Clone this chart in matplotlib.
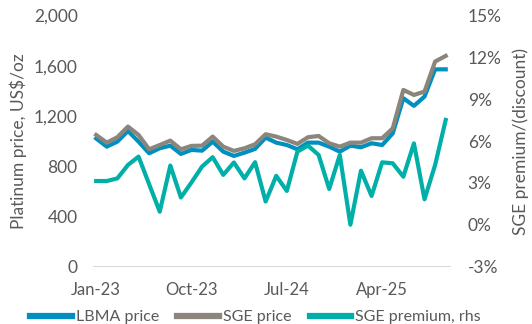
import matplotlib
matplotlib.use("Agg")
import matplotlib.pyplot as plt
import numpy as np

months = ["Jan-23","Feb-23","Mar-23","Apr-23","May-23","Jun-23","Jul-23","Aug-23","Sep-23","Oct-23","Nov-23","Dec-23",
          "Jan-24","Feb-24","Mar-24","Apr-24","May-24","Jun-24","Jul-24","Aug-24","Sep-24","Oct-24","Nov-24","Dec-24",
          "Jan-25","Feb-25","Mar-25","Apr-25","May-25","Jun-25","Jul-25","Aug-25","Sep-25","Oct-25"]
lbma = [1020, 955, 995, 1080, 995, 902, 942, 963, 897, 929, 923, 995,
        915, 881, 907, 937, 1027, 987, 968, 934, 987, 987, 955, 915,
        963, 950, 982, 968, 1061, 1341, 1280, 1354, 1571, 1571]
sge = [1048, 987, 1030, 1115, 1048, 934, 968, 1003, 934, 961, 963, 1035,
       955, 921, 942, 974, 1054, 1035, 1008, 977, 1030, 1040, 982, 955,
       987, 987, 1022, 1022, 1101, 1407, 1367, 1394, 1633, 1678]
premium = [3.13, 3.13, 3.32, 4.28, 4.88, 2.9, 0.93, 4.24, 1.95, 3.03, 4.17, 4.84,
           3.57, 4.46, 3.32, 4.48, 1.66, 3.50, 2.42, 5.24, 5.67, 5.0, 2.56, 5.0,
           0.0, 3.87, 2.06, 4.47, 4.40, 3.44, 5.83, 1.82, 4.28, 7.51]
tick_labels = ["Jan-23", "Oct-23", "Jul-24", "Apr-25"]

c_lbma = "#0090BF"
c_sge = "#8B857B"
c_prem = "#00B0A8"
txt = "#595959"

plt.rcParams['font.family'] = ['Lato', 'DejaVu Sans']
fig = plt.figure(figsize=(5.32, 3.24), dpi=100)
ax = fig.add_axes([93/532, 1-266.5/324, (451-93)/532, (266.5-15.5)/324])
ax2 = ax.twinx()

x = np.arange(len(months))
l1, = ax.plot(x, lbma, color=c_lbma, lw=3.0, label="LBMA price")
l2, = ax.plot(x, sge, color=c_sge, lw=3.0, label="SGE price")
l3, = ax2.plot(x, premium, color=c_prem, lw=3.0, label="SGE premium, rhs")

ax.set_xlim(-0.3, 33.5)
ax.set_ylim(0, 2000)
ax.set_yticks(np.arange(0, 2001, 400))
ax.set_yticklabels([f"{v:,}" for v in range(0, 2001, 400)])
ax2.set_ylim(-3, 15)
ax2.set_yticks(np.arange(-3, 16, 3))
ax2.set_yticklabels([f"{v}%" for v in range(-3, 16, 3)])
ax.set_xticks([months.index(t) for t in tick_labels])
ax.set_xticklabels(tick_labels)

for a in (ax, ax2):
    for s in ("top", "left", "right", "bottom"):
        a.spines[s].set_visible(False)
    a.tick_params(length=0, colors=txt, labelsize=12.5)
ax.tick_params(axis='y', pad=11)
ax2.tick_params(axis='y', pad=12)
ax.tick_params(axis='x', labelsize=12, pad=11)
ax.axhline(0, color="#D9D9D9", lw=1.5, zorder=0)

ax.set_ylabel("Platinum price, US$/oz", color=txt, fontsize=12.5, labelpad=5)
ax2.set_ylabel("SGE premium/(discount)", color=txt, fontsize=12.5, labelpad=8)

fig.legend(handles=[l1, l2, l3], loc="lower center", bbox_to_anchor=(0.48, -0.045), ncol=3,
           frameon=False, fontsize=11.5, handlelength=2.6, handletextpad=0.25, columnspacing=1.15,
           labelcolor=txt)
for h in fig.legends[0].legend_handles:
    h.set_linewidth(4.5)

fig.savefig("out.png", dpi=100)
